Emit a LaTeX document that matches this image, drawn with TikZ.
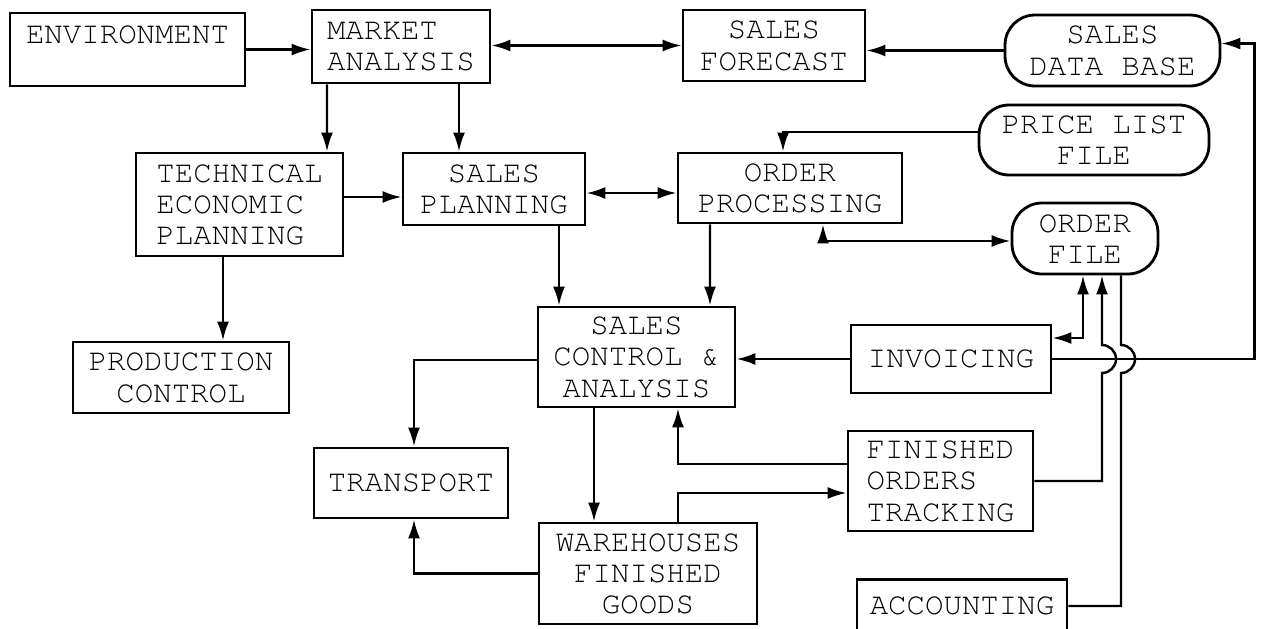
\documentclass[tikz,border=0pt]{standalone}
\usepackage[T1]{fontenc}
\usepackage{courier}
\usetikzlibrary{arrows.meta,calc}

\begin{document}
\begin{tikzpicture}[x=0.02cm, y=-0.02cm, line width=1.4pt,
  >={Latex[length=3.8mm,width=2.4mm]},
  every node/.style = {shape=rectangle, draw, line width=1.6pt, inner sep=0pt, align=center,
    font=\ttfamily\fontsize{17.5}{17.8}\selectfont},
  file/.style = {rounded corners=0.6cm}]
  \useasboundingbox (0,0) rectangle (1262,629);
  \node[minimum width=4.70cm, minimum height=1.46cm] (env) at (127.5,49.5) {ENVIRONMENT\\~};
  \node[minimum width=3.56cm, minimum height=1.46cm, align=left] (ma) at (401,46.5) {MARKET\\ANALYSIS};
  \node[minimum width=3.64cm, minimum height=1.42cm] (sf) at (774,45.5) {SALES\\FORECAST};
  \node[file, minimum width=4.30cm, minimum height=1.42cm] (sdb) at (1112.5,50.5) {SALES\\DATA BASE};
  \node[file, minimum width=4.60cm, minimum height=1.40cm] (plf) at (1094,140) {PRICE LIST\\FILE};
  \node[file, minimum width=2.92cm, minimum height=1.42cm] (of) at (1085,238.5) {ORDER\\FILE};
  \node[minimum width=4.48cm, minimum height=1.40cm] (op) at (790,188) {ORDER\\PROCESSING};
  \node[minimum width=4.14cm, minimum height=2.06cm, align=left] (tep) at (239.5,204.5) {TECHNICAL\\ECONOMIC\\PLANNING};
  \node[minimum width=3.64cm, minimum height=1.44cm] (sp) at (494,189) {SALES\\PLANNING};
  \node[minimum width=4.32cm, minimum height=1.42cm] (pc) at (181,377.5) {PRODUCTION\\CONTROL};
  \node[minimum width=3.94cm, minimum height=2.00cm] (sca) at (636.5,357) {SALES\\CONTROL \&\\ANALYSIS};
  \node[minimum width=3.88cm, minimum height=1.40cm] (tr) at (411,483) {TRANSPORT};
  \node[minimum width=4.36cm, minimum height=2.02cm] (wh) at (648,573.5) {WAREHOUSES\\FINISHED\\GOODS};
  \node[minimum width=4.00cm, minimum height=1.36cm] (inv) at (951,359) {INVOICING};
  \node[minimum width=3.70cm, minimum height=2.00cm, align=left] (fot) at (940.5,481) {FINISHED\\ORDERS\\TRACKING};
  \node[minimum width=4.20cm, minimum height=1.06cm] (acc) at (962,606) {ACCOUNTING};
  \coordinate (hop1) at (1102,359);
  \coordinate (hop2) at (1121,359);

  \draw[->] (env.east) -- (ma.west |- env.east);
  \draw[<->] (ma.east |- sf.west) -- (sf.west);
  \draw[->] (sdb.west) -- (sf.east |- sdb.west);
  \draw[->] ($(ma.south)+(-74,0)$) -- ($(tep.north)+(87.5,0)$);
  \draw[->] ($(ma.south)+(58,0)$) -- ($(sp.north)+(-35,0)$);
  \draw[->] ($(tep.east)+(0,-7.5)$) -- ($(sp.west)+(0,8)$);
  \draw[<->] ($(sp.east)+(0,4)$) -- ($(op.west)+(0,5)$);
  \draw[->] ($(plf.west)+(0,-8)$) -| ($(op.north)+(-7,0)$);
  \draw[<->] ($(op.south)+(33,0)$) |- ($(of.west)+(0,2.5)$);
  \draw[->] ($(sp.south)+(65,0)$) -- ($(sca.north)+(-77.5,0)$);
  \draw[->] ($(op.south)+(-80,0)$) -- ($(sca.north)+(73.5,0)$);
  \draw[->] ($(tep.south)+(-16.5,0)$) -- ($(pc.north)+(42,0)$);
  \draw[->] (inv.west) -- (sca.east |- inv.west);
  \draw[<->] ($(inv.east)+(0,-21)$) -| ($(of.south)+(-2,0)$);
  \draw[->] (fot.east) -| ($(hop1)+(0,14)$) arc[start angle=-90, end angle=90, radius=0.28cm]
    -- ($(of.south)+(17,0)$);
  \draw (acc.east) -| ($(hop2)+(0,14)$) arc[start angle=-90, end angle=90, radius=0.28cm]
    -- ($(of.south)+(36,0)$);
  \draw[->] (inv.east) -- ++(202,0) |- ($(sdb.east)+(0,-7)$);
  \draw[->] ($(sca.west)+(0,3)$) -| ($(tr.north)+(3,0)$);
  \draw[->] (wh.west) -| ($(tr.south)+(3,0)$);
  \draw[->] ($(sca.south)+(-42.5,0)$) -- ($(wh.north)+(-54,0)$);
  \draw[->] ($(fot.west)+(0,-17)$) -| ($(sca.south)+(41.5,0)$);
  \draw[->] ($(wh.north)+(30,0)$) |- ($(fot.west)+(0,12)$);
\end{tikzpicture}
\end{document}
